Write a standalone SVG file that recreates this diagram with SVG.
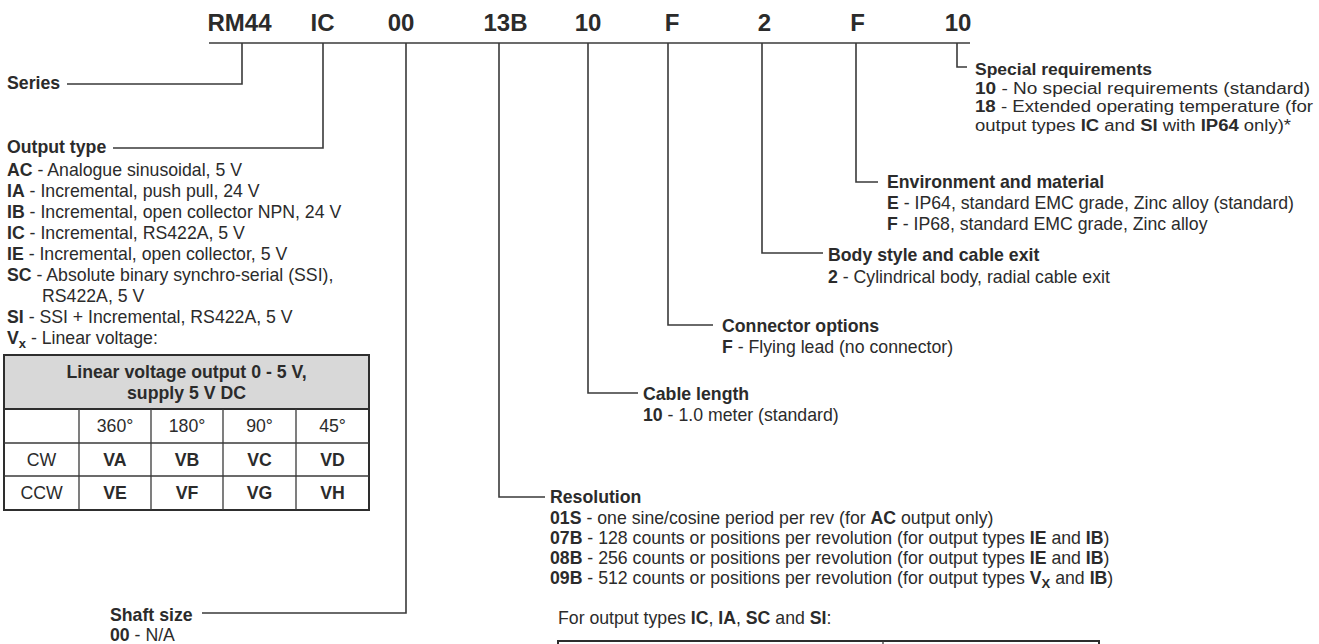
<svg xmlns="http://www.w3.org/2000/svg" width="1319" height="644" viewBox="0 0 1319 644">
<style>
text { font-family: "Liberation Sans", Arial, sans-serif; font-size: 17.7px; fill: #2b2b2b; }
.b { font-weight: bold; }
.h { font-size: 24px; font-weight: bold; text-anchor: middle; }
.m { text-anchor: middle; }
.sp { font-size: 16px; }
.sub { font-size: 13px; }
.c { stroke: #3a3a3a; stroke-width: 1.6; fill: none; }
.grid { stroke: #3a3a3a; stroke-width: 1.3; fill: none; }
.frame { stroke: #2e2e2e; stroke-width: 2; fill: none; }
</style>
<rect width="1319" height="644" fill="#ffffff"/>

<g id="code">
  <text class="h" x="239.5" y="31">RM44</text>
  <text class="h" x="322.5" y="31">IC</text>
  <text class="h" x="401" y="31">00</text>
  <text class="h" x="505.5" y="31">13B</text>
  <text class="h" x="588" y="31">10</text>
  <text class="h" x="672" y="31">F</text>
  <text class="h" x="764.5" y="31">2</text>
  <text class="h" x="857.5" y="31">F</text>
  <text class="h" x="958" y="31">10</text>
</g>

<g id="connectors">
  <line class="c" x1="209" y1="43" x2="970" y2="43" stroke-width="2"/>
  <polyline class="c" points="242,43 242,84 67,84"/>
  <polyline class="c" points="323,43 323,148 113,148"/>
  <polyline class="c" points="406,43 406,613 202,613"/>
  <polyline class="c" points="499,43 499,497 545,497"/>
  <polyline class="c" points="588,43 588,393 638,393"/>
  <polyline class="c" points="668,43 668,325 713,325"/>
  <polyline class="c" points="762,43 762,253 823,253"/>
  <polyline class="c" points="856,43 856,182 878,182"/>
  <polyline class="c" points="957,43 957,67 967,67"/>
</g>

<g id="series">
  <text class="b" x="7" y="89">Series</text>
</g>

<g id="output-type">
  <text class="b" x="7" y="153">Output type</text>
  <text x="7" y="176"><tspan class="b">AC</tspan> - Analogue sinusoidal, 5 V</text>
  <text x="7" y="197"><tspan class="b">IA</tspan> - Incremental, push pull, 24 V</text>
  <text x="7" y="218"><tspan class="b">IB</tspan> - Incremental, open collector NPN, 24 V</text>
  <text x="7" y="239"><tspan class="b">IC</tspan> - Incremental, RS422A, 5 V</text>
  <text x="7" y="260"><tspan class="b">IE</tspan> - Incremental, open collector, 5 V</text>
  <text x="7" y="281"><tspan class="b">SC</tspan> - Absolute binary synchro-serial (SSI),</text>
  <text x="42" y="302">RS422A, 5 V</text>
  <text x="7" y="323"><tspan class="b">SI</tspan> - SSI + Incremental, RS422A, 5 V</text>
  <text x="7" y="344"><tspan class="b">V</tspan><tspan class="b sub" dy="4">x</tspan><tspan dy="-4"> - Linear voltage:</tspan></text>
</g>

<g id="linear-voltage-table">
  <rect x="4" y="355" width="365" height="54" fill="#d8d8d8"/>
  <rect class="frame" x="4" y="355" width="365" height="155"/>
  <line class="frame" x1="4" y1="409" x2="369" y2="409"/>
  <line class="grid" x1="4" y1="443" x2="369" y2="443"/>
  <line class="grid" x1="4" y1="476" x2="369" y2="476"/>
  <line class="grid" x1="79" y1="409" x2="79" y2="510"/>
  <line class="grid" x1="151" y1="409" x2="151" y2="510"/>
  <line class="grid" x1="223" y1="409" x2="223" y2="510"/>
  <line class="grid" x1="296" y1="409" x2="296" y2="510"/>
  <text class="b m" x="186.5" y="378">Linear voltage output 0 - 5 V,</text>
  <text class="b m" x="186.5" y="399">supply 5 V DC</text>
  <text class="m" x="115" y="432">360°</text>
  <text class="m" x="187" y="432">180°</text>
  <text class="m" x="259.5" y="432">90°</text>
  <text class="m" x="332.5" y="432">45°</text>
  <text class="m" x="41.5" y="466">CW</text>
  <text class="b m" x="115" y="466">VA</text>
  <text class="b m" x="187" y="466">VB</text>
  <text class="b m" x="259.5" y="466">VC</text>
  <text class="b m" x="332.5" y="466">VD</text>
  <text class="m" x="41.5" y="499">CCW</text>
  <text class="b m" x="115" y="499">VE</text>
  <text class="b m" x="187" y="499">VF</text>
  <text class="b m" x="259.5" y="499">VG</text>
  <text class="b m" x="332.5" y="499">VH</text>
</g>

<g id="shaft-size">
  <text class="b" x="110" y="621">Shaft size</text>
  <text x="110" y="641"><tspan class="b">00</tspan> - N/A</text>
</g>

<g id="resolution">
  <text class="b" x="550" y="503">Resolution</text>
  <text x="550" y="524"><tspan class="b">01S</tspan> - one sine/cosine period per rev (for <tspan class="b">AC</tspan> output only)</text>
  <text x="550" y="544"><tspan class="b">07B</tspan> - 128 counts or positions per revolution (for output types <tspan class="b">IE</tspan> and <tspan class="b">IB</tspan>)</text>
  <text x="550" y="564"><tspan class="b">08B</tspan> - 256 counts or positions per revolution (for output types <tspan class="b">IE</tspan> and <tspan class="b">IB</tspan>)</text>
  <text x="550" y="584"><tspan class="b">09B</tspan> - 512 counts or positions per revolution (for output types <tspan class="b">V</tspan><tspan class="b sub" dy="4">X</tspan><tspan dy="-4"> and </tspan><tspan class="b">IB</tspan>)</text>
  <text x="558" y="624">For output types <tspan class="b">IC</tspan>, <tspan class="b">IA</tspan>, <tspan class="b">SC</tspan> and <tspan class="b">SI</tspan>:</text>
  <rect class="frame" x="558" y="641" width="541" height="20"/>
  <line class="grid" x1="883" y1="641" x2="883" y2="661"/>
</g>

<g id="cable-length">
  <text class="b" x="643" y="400">Cable length</text>
  <text x="643" y="421"><tspan class="b">10</tspan> - 1.0 meter (standard)</text>
</g>

<g id="connector-options">
  <text class="b" x="722" y="332">Connector options</text>
  <text x="722" y="353"><tspan class="b">F</tspan> - Flying lead (no connector)</text>
</g>

<g id="body-style">
  <text class="b" x="828" y="261">Body style and cable exit</text>
  <text x="828" y="283"><tspan class="b">2</tspan> - Cylindrical body, radial cable exit</text>
</g>

<g id="environment">
  <text class="b" x="887" y="188">Environment and material</text>
  <text x="887" y="209"><tspan class="b">E</tspan> - IP64, standard EMC grade, Zinc alloy (standard)</text>
  <text x="887" y="230"><tspan class="b">F</tspan> - IP68, standard EMC grade, Zinc alloy</text>
</g>

<g id="special-requirements">
  <text class="b sp" x="975" y="75" textLength="177" lengthAdjust="spacingAndGlyphs">Special requirements</text>
  <text class="sp" x="975" y="93.5" textLength="335" lengthAdjust="spacingAndGlyphs"><tspan class="b">10</tspan> - No special requirements (standard)</text>
  <text class="sp" x="975" y="112" textLength="338" lengthAdjust="spacingAndGlyphs"><tspan class="b">18</tspan> - Extended operating temperature (for</text>
  <text class="sp" x="975" y="130.5" textLength="316" lengthAdjust="spacingAndGlyphs">output types <tspan class="b">IC</tspan> and <tspan class="b">SI</tspan> with <tspan class="b">IP64</tspan> only)*</text>
</g>
</svg>
